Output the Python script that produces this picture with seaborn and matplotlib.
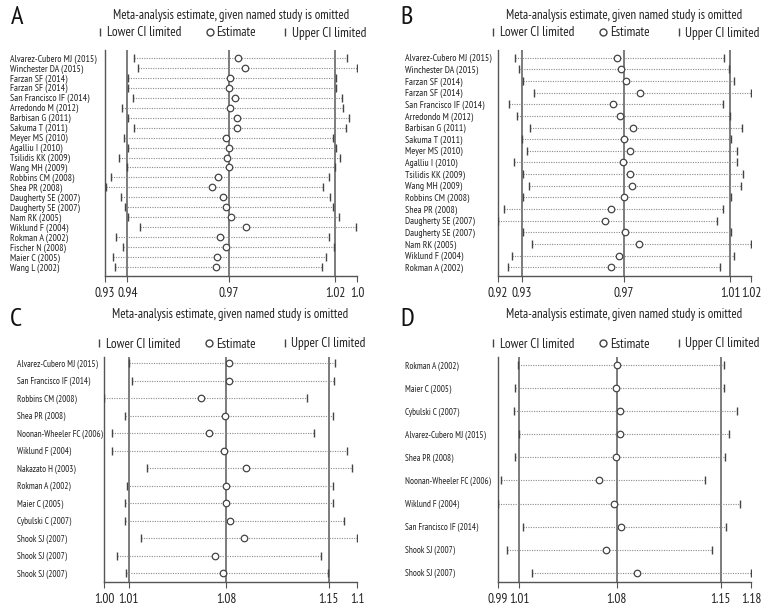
import numpy as np
import pandas as pd
import matplotlib
matplotlib.use('Agg')
import matplotlib.pyplot as plt
from matplotlib.lines import Line2D
import seaborn as sns

################################################################ DADOS
studies_a = ['Alvarez-Cubero MJ (2015)', 'Winchester DA (2015)', 'Farzan SF (2014)', 'Farzan SF (2014)',
             'San Francisco IF (2014)', 'Arredondo M (2012)', 'Barbisan G (2011)', 'Sakuma T (2011)',
             'Meyer MS (2010)', 'Agalliu I (2010)', 'Tsilidis KK (2009)', 'Wang MH (2009)',
             'Robbins CM (2008)', 'Shea PR (2008)', 'Daugherty SE (2007)', 'Daugherty SE (2007)',
             'Nam RK (2005)', 'Wiklund F (2004)', 'Rokman A (2002)', 'Fischer N (2008)',
             'Maier C (2005)', 'Wang L (2002)']
lower_a = [0.9427, 0.9442, 0.9401, 0.9404, 0.9423, 0.9379, 0.9404, 0.9426, 0.9387, 0.9401, 0.9367,
           0.9397, 0.9337, 0.9317, 0.9374, 0.9390, 0.9404, 0.9450, 0.9355, 0.9385, 0.9346, 0.9351]
est_a = [0.9826, 0.9853, 0.9795, 0.9792, 0.9813, 0.9795, 0.9821, 0.9824, 0.9779, 0.9793, 0.9784,
         0.9790, 0.9748, 0.9726, 0.9767, 0.9781, 0.9801, 0.9857, 0.9758, 0.9781, 0.9745, 0.9740]
upper_a = [1.0245, 1.0285, 1.0204, 1.0204, 1.0228, 1.0232, 1.0253, 1.0242, 1.0194, 1.0204, 1.0220,
           1.0201, 1.0177, 1.0155, 1.0181, 1.0194, 1.0217, 1.0283, 1.0178, 1.0197, 1.0164, 1.0150]
pooled_a = [0.94, 0.979, 1.02]
ticks_a = [0.9314, 0.94, 0.979, 1.02, 1.0285]
ticklabels_a = ['0.93', '0.94', '0.97', '1.02', '1.0']

studies_b = ['Alvarez-Cubero MJ (2015)', 'Winchester DA (2015)', 'Farzan SF (2014)', 'Farzan SF (2014)',
             'San Francisco IF (2014)', 'Arredondo M (2012)', 'Barbisan G (2011)', 'Sakuma T (2011)',
             'Meyer MS (2010)', 'Agalliu I (2010)', 'Tsilidis KK (2009)', 'Wang MH (2009)',
             'Robbins CM (2008)', 'Shea PR (2008)', 'Daugherty SE (2007)', 'Daugherty SE (2007)',
             'Nam RK (2005)', 'Wiklund F (2004)', 'Rokman A (2002)']
lower_b = [0.9273, 0.9288, 0.9303, 0.9346, 0.9250, 0.9281, 0.9331, 0.9301, 0.9321, 0.9269,
           0.9303, 0.9327, 0.9304, 0.9232, 0.9208, 0.9304, 0.9338, 0.9260, 0.9246]
est_b = [0.9665, 0.9681, 0.9699, 0.9754, 0.9651, 0.9678, 0.9726, 0.9692, 0.9714, 0.9687,
         0.9714, 0.9724, 0.9692, 0.9641, 0.9619, 0.9695, 0.9749, 0.9674, 0.9644]
upper_b = [1.0079, 1.0095, 1.0115, 1.0181, 1.0074, 1.0099, 1.0145, 1.0105, 1.0128, 1.0126,
           1.0149, 1.0141, 1.0105, 1.0072, 1.0050, 1.0105, 1.0181, 1.0115, 1.0062]
pooled_b = [0.93, 0.9691, 1.01]
ticks_b = [0.9208, 0.93, 0.9691, 1.01, 1.0181]
ticklabels_b = ['0.92', '0.93', '0.97', '1.01', '1.02']

studies_c = ['Alvarez-Cubero MJ (2015)', 'San Francisco IF (2014)', 'Robbins CM (2008)', 'Shea PR (2008)',
             'Noonan-Wheeler FC (2006)', 'Wiklund F (2004)', 'Nakazato H (2003)', 'Rokman A (2002)',
             'Maier C (2005)', 'Cybulski C (2007)', 'Shook SJ (2007)', 'Shook SJ (2007)', 'Shook SJ (2007)']
lower_c = [1.0102, 1.0123, 0.9927, 1.0074, 0.9981, 0.9981, 1.0231, 1.0091, 1.0074, 1.0074, 1.0187, 1.0016, 1.0081]
est_c = [1.0802, 1.0805, 1.0608, 1.0774, 1.0664, 1.0767, 1.0919, 1.0784, 1.0779, 1.0812, 1.0910, 1.0706, 1.0762]
upper_c = [1.1547, 1.1535, 1.1350, 1.1528, 1.1395, 1.1629, 1.1661, 1.1528, 1.1528, 1.1605, 1.1697, 1.1446, 1.1493]
pooled_c = [1.01, 1.0781, 1.15]
ticks_c = [0.9927, 1.01, 1.0781, 1.15, 1.1699]
ticklabels_c = ['1.00', '1.01', '1.08', '1.15', '1.1']

studies_d = ['Rokman A (2002)', 'Maier C (2005)', 'Cybulski C (2007)', 'Alvarez-Cubero MJ (2015)',
             'Shea PR (2008)', 'Noonan-Wheeler FC (2006)', 'Wiklund F (2004)', 'San Francisco IF (2014)',
             'Shook SJ (2007)', 'Shook SJ (2007)']
lower_d = [1.0095, 1.0072, 1.0065, 1.0100, 1.0072, 0.9973, 0.9954, 1.0128, 1.0014, 1.0188]
est_d = [1.0783, 1.0776, 1.0803, 1.0801, 1.0776, 1.0655, 1.0759, 1.0806, 1.0702, 1.0919]
upper_d = [1.1523, 1.1523, 1.1616, 1.1556, 1.1528, 1.1389, 1.1632, 1.1539, 1.1442, 1.1711]
pooled_d = [1.01, 1.0778, 1.15]
ticks_d = [0.9954, 1.01, 1.0778, 1.15, 1.1711]
ticklabels_d = ['0.99', '1.01', '1.08', '1.15', '1.18']
#######################################################################

sns.set_theme(style='white')
plt.rcParams['font.family'] = ['PT Sans Narrow', 'DejaVu Sans']

W, H = 780, 612
fig = plt.figure(figsize=(W / 100, H / 100), dpi=100)

cor_linha = '#555555'
cor_ponto = '#444444'


def painel(letra, studies, lower, est, upper, pooled, ticks, ticklabels,
           box, ylim, y_titulo, y_legenda, x_letra, y_letra, x_rotulo, fs_rotulo):
    # box em pixels: (esquerda, topo, direita, base)
    l, t, r, b = box
    ax = fig.add_axes([l / W, 1 - b / H, (r - l) / W, (b - t) / H])
    df = pd.DataFrame({'study': studies, 'lower': lower, 'est': est, 'upper': upper})
    df['pos'] = np.arange(len(df))

    for p in pooled:
        ax.axvline(p, color='#666666', lw=1.2, zorder=1)

    ax.hlines(df.pos, df.lower, df.upper, colors='#8a8a8a', linestyles=(0, (1, 1.2)), lw=0.8, zorder=2)
    sns.scatterplot(data=df, x='lower', y='pos', marker='|', s=36, color=cor_ponto,
                    linewidth=1.0, ax=ax, zorder=3, legend=False)
    sns.scatterplot(data=df, x='upper', y='pos', marker='|', s=36, color=cor_ponto,
                    linewidth=1.0, ax=ax, zorder=3, legend=False)
    sns.scatterplot(data=df, x='est', y='pos', marker='o', s=22, facecolor='white',
                    edgecolor=cor_ponto, linewidth=0.9, ax=ax, zorder=4, legend=False)

    ax.set_xlim(ticks[0], ticks[-1])
    ax.set_ylim(*ylim)
    ax.set_xticks(ticks)
    ax.set_xticklabels(ticklabels, fontsize=9.6, color='#222222')
    ax.set_yticks(df.pos)
    ax.set_yticklabels(df.study, fontsize=fs_rotulo, color='#222222')
    for lab in ax.get_yticklabels():
        lab.set_horizontalalignment('left')
    ax.tick_params(axis='y', length=0, pad=(l - x_rotulo) * 0.72)
    ax.tick_params(axis='x', length=4, width=0.8, color=cor_linha, direction='out', pad=4, bottom=True)
    ax.set_xlabel('')
    ax.set_ylabel('')
    for s in ['top', 'right']:
        ax.spines[s].set_visible(False)
    for s in ['left', 'bottom']:
        ax.spines[s].set_color(cor_linha)
        ax.spines[s].set_linewidth(1.0)

    cx = (l + r) / 2 / W
    fig.text(cx, 1 - y_titulo / H, 'Meta-analysis estimate, given named study is omitted',
             ha='center', va='center', fontsize=9.2, color='#222222')
    handles = [Line2D([], [], marker='|', ls='none', color=cor_ponto, markersize=6),
               Line2D([], [], marker='o', ls='none', markerfacecolor='white',
                      markeredgecolor=cor_ponto, markersize=5),
               Line2D([], [], marker='|', ls='none', color=cor_ponto, markersize=6)]
    fig.legend(handles, ['Lower CI limited', 'Estimate', 'Upper CI limited'],
               loc='center', bbox_to_anchor=(cx, 1 - y_legenda / H), ncol=3, frameon=False,
               fontsize=9.5, handlelength=0.6, handletextpad=0.2, columnspacing=1.9,
               labelcolor='#222222', borderpad=0)
    fig.text(x_letra / W, 1 - y_letra / H, letra, ha='center', va='center', fontsize=19, color='#111111')


painel('A', studies_a, lower_a, est_a, upper_a, pooled_a, ticks_a, ticklabels_a,
       (105, 50, 357, 276), (21.9, -0.8), 15, 33, 17, 17, 10, 7.0)
painel('B', studies_b, lower_b, est_b, upper_b, pooled_b, ticks_b, ticklabels_b,
       (498, 50, 751, 276), (18.75, -0.66), 15, 33, 407, 17, 405, 7.0)
painel('C', studies_c, lower_c, est_c, upper_c, pooled_c, ticks_c, ticklabels_c,
       (104, 357, 357, 582), (12.5, -0.35), 315, 344, 16, 320, 17, 6.6)
painel('D', studies_d, lower_d, est_d, upper_d, pooled_d, ticks_d, ticklabels_d,
       (498, 357, 751, 582), (9.4, -0.35), 315, 344, 407, 320, 405, 6.6)

plt.savefig('out.png', dpi=100)
